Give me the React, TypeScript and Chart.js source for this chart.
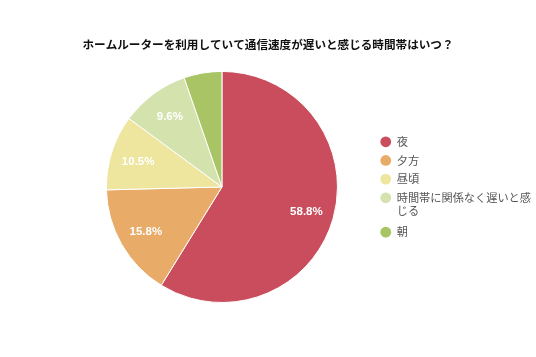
import React, { useEffect, useRef } from 'react';
import { Chart, registerables } from 'chart.js';

Chart.register(...registerables);

const titleText = 'ホームルーターを利用していて通信速度が遅いと感じる時間帯はいつ？';
const categories = ['夜', '夕方', '昼頃', '時間帯に関係なく遅いと感じる', '朝'];
const legendLines: (string | string[])[] = ['夜', '夕方', '昼頃', ['時間帯に関係なく遅いと感', 'じる'], '朝'];
const values = [58.8, 15.8, 10.5, 9.6, 5.3];
const colors = ['#C94D5D', '#E8AB68', '#EEE59E', '#D4E2AE', '#A8C464'];

const pctLabels = {
  id: 'pctLabels',
  afterDatasetsDraw(chart: any) {
    const ctx = chart.ctx;
    const meta = chart.getDatasetMeta(0);
    const data = chart.data.datasets[0].data as number[];
    const total = data.reduce((a, b) => a + b, 0);
    ctx.save();
    ctx.font = 'bold 11.5px "Liberation Sans", Arial, sans-serif';
    ctx.fillStyle = '#ffffff';
    ctx.textAlign = 'center';
    ctx.textBaseline = 'middle';
    meta.data.forEach((arc: any, i: number) => {
      const pct = (data[i] / total) * 100;
      if (pct < 6) return;
      const { x, y, startAngle, endAngle, outerRadius } = arc.getProps(
        ['x', 'y', 'startAngle', 'endAngle', 'outerRadius'],
        true
      );
      const mid = (startAngle + endAngle) / 2;
      const r = outerRadius * 0.76;
      ctx.fillText(pct.toFixed(1) + '%', x + Math.cos(mid) * r, y + Math.sin(mid) * r + 1);
    });
    ctx.restore();
  },
};

export default function App() {
  const ref = useRef<HTMLCanvasElement>(null);
  useEffect(() => {
    if (!ref.current) return;
    const baseGen = (Chart as any).overrides.doughnut.plugins.legend.labels.generateLabels;
    const chart = new Chart(ref.current, {
      type: 'pie',
      data: {
        labels: categories,
        datasets: [
          {
            data: values,
            backgroundColor: colors,
            borderColor: '#ffffff',
            borderWidth: 1,
          },
        ],
      },
      options: {
        responsive: false,
        animation: false,
        layout: { padding: { left: -5, right: -5, top: 0, bottom: 54 } },
        plugins: {
          tooltip: { enabled: false },
          title: {
            display: true,
            text: titleText,
            color: '#111111',
            font: { family: '"Noto Sans CJK JP", sans-serif', size: 11.6, weight: 'bold', lineHeight: 1.2 },
            padding: { top: 38, bottom: 19 },
          },
          subtitle: {
            display: true,
            text: ' ',
            position: 'left',
            fullSize: false,
            font: { size: 10, lineHeight: 1 },
            padding: { top: 66, bottom: 0 },
          },
          legend: {
            position: 'right',
            align: 'center',
            fullSize: false,
            maxWidth: 300,
            labels: {
              usePointStyle: true,
              pointStyle: 'circle',
              pointStyleWidth: 10.8,
              boxHeight: 7.6,
              padding: 7.47,
              color: '#555555',
              font: { family: '"Noto Sans CJK JP", sans-serif', size: 11.2, lineHeight: 1.2 },
              generateLabels: (chart: any) => {
                const items = baseGen(chart);
                items.forEach((it: any, i: number) => {
                  it.text = legendLines[i];
                  it.lineWidth = 0;
                });
                return items;
              },
            },
          },
        },
      },
      plugins: [pctLabels],
    } as any);
    return () => chart.destroy();
  }, []);
  return (
    <canvas
      ref={ref}
      width={536}
      height={357}
      style={{ position: 'absolute', left: 0, top: 0, width: 536, height: 357 }}
    />
  );
}
